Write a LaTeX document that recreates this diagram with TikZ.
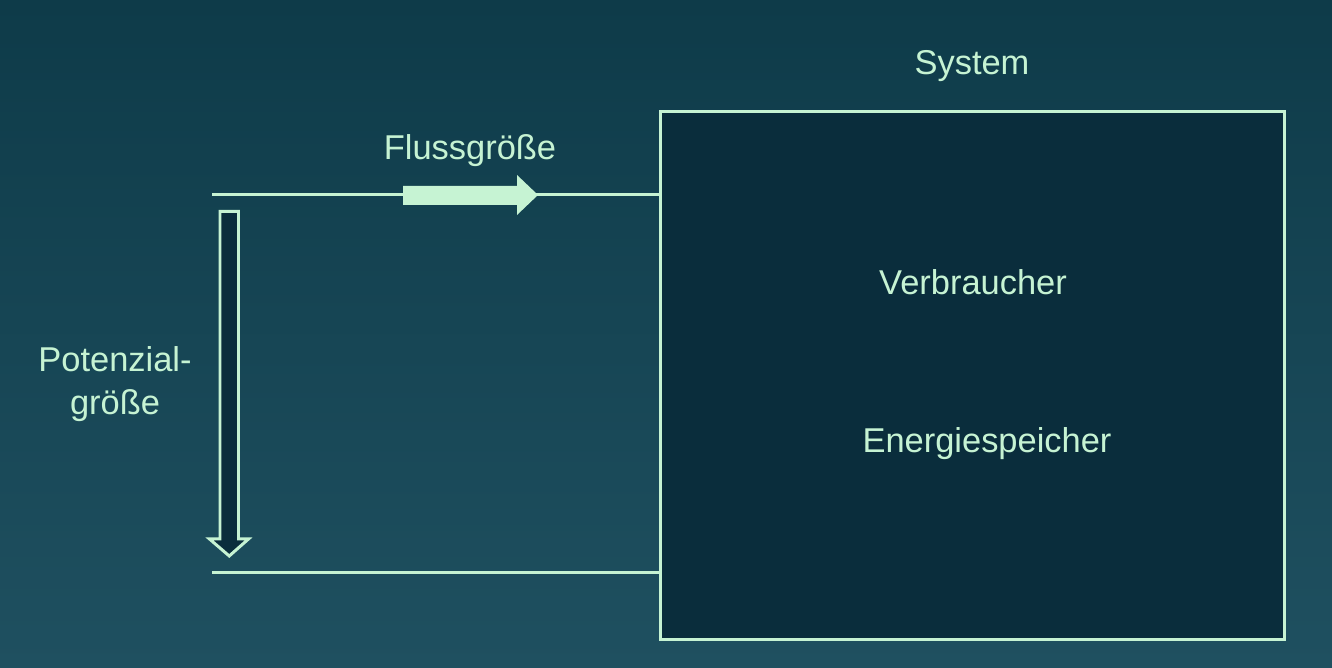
\documentclass[tikz,border=0pt]{standalone}
\usepackage{fontspec}
\setmainfont{Liberation Sans}
\usetikzlibrary{positioning}

\definecolor{bgtop}{HTML}{0E3B49}
\definecolor{bgbot}{HTML}{1F5060}
\definecolor{boxfill}{HTML}{0A2D3C}
\definecolor{mint}{HTML}{C6F3D3}

\tikzset{
	wire/.style = {draw = mint, line width = 0.85pt},
	txt/.style = {text = mint, font = \fontsize{9.8}{12.2}\selectfont, inner sep = 0pt, align = center}
}

\begin{document}
\begin{tikzpicture}[line join = miter]

	\shade [top color = bgtop, bottom color = bgbot] (0, 0) rectangle (13.32, 6.68);
	\useasboundingbox (0, 0) rectangle (13.32, 6.68);

	\node [wire, fill = boxfill, minimum width = 6.24cm, minimum height = 5.28cm, inner sep = 0pt] (sys) at (9.725, 2.925) {};

	\node [txt] (systxt) at (9.72, 6.02) {System};
	\node [txt] (verb) at (9.73, 3.86) {Verbraucher};
	\node [txt] (esp) at (9.87, 2.245) {Energiespeicher};
	\node [txt] (fluss) at (4.70, 5.175) {Flussgröße};
	\node [txt] (pot) at (1.15, 2.835) {Potenzial-\\größe};

	\coordinate (inT) at (2.12, 4.73);
	\coordinate (inB) at (2.12, 0.95);

	\foreach \c in {inT, inB}
		\draw [wire] (\c) -- (\c -| sys.west);

	% arrows for the flow and the potential
	\fill [mint] (4.03, 4.82) -- (5.17, 4.82) -- (5.17, 4.93) -- (5.38, 4.73) -- (5.17, 4.53) -- (5.17, 4.63) -- (4.03, 4.63) -- cycle;
	\draw [wire, fill = boxfill] (2.20, 4.565) -- (2.385, 4.565) -- (2.385, 1.29) -- (2.485, 1.29) -- (2.2925, 1.12) -- (2.095, 1.29) -- (2.20, 1.29) -- cycle;

\end{tikzpicture}
\end{document}
